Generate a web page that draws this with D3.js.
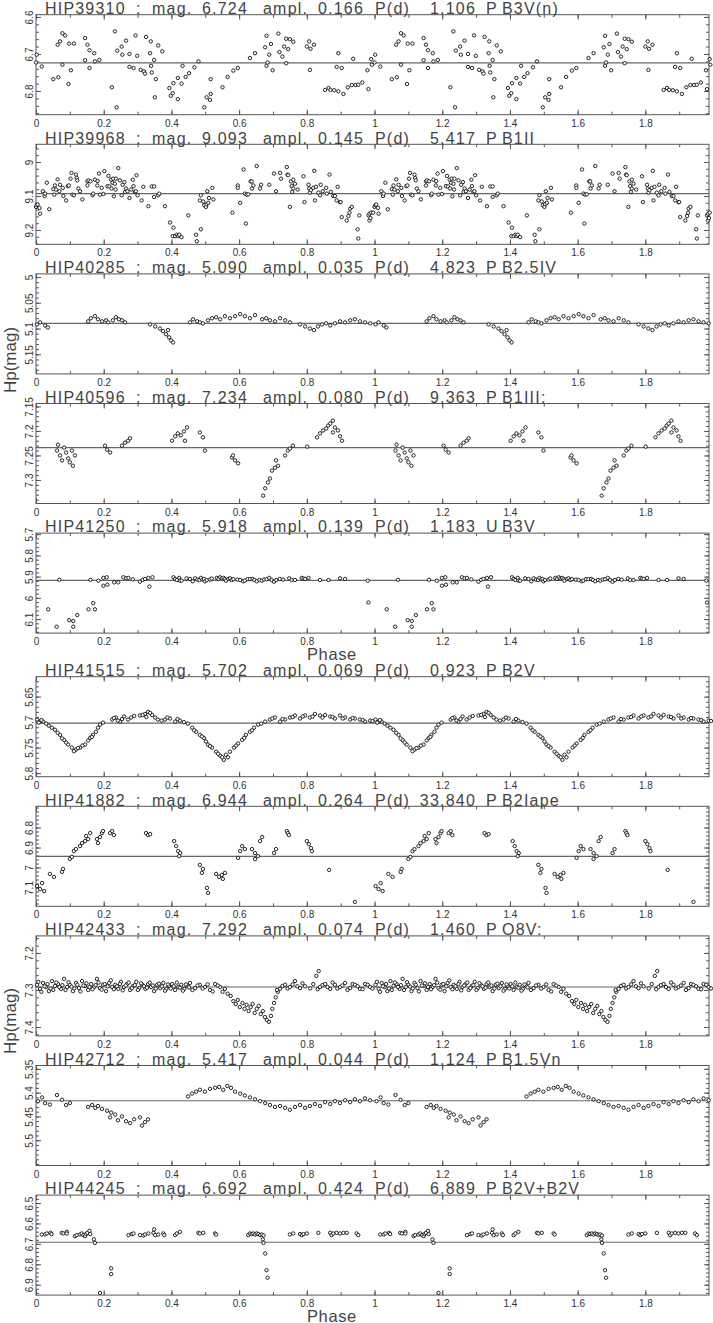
<!DOCTYPE html>
<html><head><meta charset="utf-8">
<script src="https://cdn.jsdelivr.net/npm/d3@7"></script>
<style>body{margin:0;background:#fff}svg{display:block}</style>
</head><body>
<svg id="c" width="713" height="1323"></svg>
<script>
// ---------------- data ----------------
const starNames = ["HIP39310","HIP39968","HIP40285","HIP40596","HIP41250","HIP41515","HIP41882","HIP42433","HIP42712","HIP44245"];
const meanMags = [6.724, 9.093, 5.090, 7.234, 5.918, 5.702, 6.944, 7.292, 5.417, 6.692];
const amplitudes = [0.166, 0.145, 0.035, 0.080, 0.139, 0.069, 0.264, 0.074, 0.044, 0.424];
const periods = [1.106, 5.417, 4.823, 9.363, 1.183, 0.923, 33.840, 1.460, 1.124, 6.889];
const periodFlags = ["P","P","P","P","U","P","P","P","P","P"];
const spectralTypes = ["B3V(n)","B1II","B2.5IV","B1III:","B3V","B2V","B2Iape","O8V:","B1.5Vn","B2V+B2V"];
const yDomains = [[6.594,6.864],[8.948,9.242],[4.994,5.188],[7.144,7.348],[5.695,6.166],[5.611,5.807],[6.694,7.194],[7.154,7.424],[5.343,5.553],[6.461,6.951]];
const yMajorTicks = [[6.6,6.7,6.8],[9,9.1,9.2],[5,5.05,5.1,5.15],[7.15,7.2,7.25,7.3],[5.7,5.8,5.9,6,6.1],[5.65,5.7,5.75,5.8],[6.8,6.9,7,7.1],[7.2,7.3,7.4],[5.35,5.4,5.45,5.5],[6.5,6.6,6.7,6.8,6.9]];
const yMinorSteps = [0.02,0.02,0.01,0.01,0.02,0.01,0.02,0.02,0.01,0.02];
const xTickLabels = [0,0.2,0.4,0.6,0.8,1,1.2,1.4,1.6,1.8];
const phaseDomain = [0,1.988];

// [phase, Hp mag] for phase 0..1 (plotted again at phase+1)
const hip39310 = [[0.002,6.702],[0.000,6.723],[0.017,6.734],[0.051,6.768],[0.066,6.763],[0.064,6.675],[0.071,6.666],[0.078,6.644],[0.078,6.729],[0.086,6.650],[0.096,6.781],[0.098,6.672],[0.103,6.744],[0.112,6.672],[0.145,6.657],[0.145,6.717],[0.152,6.675],[0.158,6.690],[0.158,6.738],[0.172,6.698],[0.174,6.720],[0.187,6.716],[0.224,6.790],[0.233,6.639],[0.238,6.844],[0.240,6.691],[0.253,6.680],[0.255,6.702],[0.266,6.664],[0.276,6.700],[0.276,6.735],[0.288,6.738],[0.294,6.650],[0.299,6.705],[0.309,6.743],[0.319,6.747],[0.322,6.753],[0.325,6.654],[0.337,6.698],[0.339,6.666],[0.340,6.732],[0.342,6.750],[0.349,6.716],[0.354,6.768],[0.351,6.817],[0.361,6.677],[0.373,6.693],[0.394,6.792],[0.398,6.813],[0.404,6.806],[0.406,6.779],[0.419,6.822],[0.419,6.765],[0.430,6.780],[0.433,6.732],[0.442,6.762],[0.452,6.752],[0.468,6.736],[0.480,6.720],[0.497,6.844],[0.504,6.817],[0.514,6.824],[0.516,6.808],[0.516,6.768],[0.551,6.790],[0.566,6.762],[0.583,6.745],[0.596,6.738],[0.632,6.711],[0.647,6.698],[0.677,6.682],[0.681,6.651],[0.681,6.732],[0.684,6.723],[0.689,6.702],[0.694,6.673],[0.699,6.744],[0.716,6.645],[0.719,6.695],[0.728,6.707],[0.733,6.680],[0.739,6.725],[0.739,6.659],[0.745,6.687],[0.750,6.660],[0.760,6.667],[0.800,6.680],[0.807,6.666],[0.811,6.686],[0.821,6.675],[0.809,6.743],[0.854,6.797],[0.864,6.792],[0.870,6.797],[0.881,6.798],[0.893,6.801],[0.908,6.808],[0.921,6.790],[0.933,6.784],[0.944,6.784],[0.893,6.698],[0.888,6.735],[0.903,6.738],[0.937,6.713],[0.952,6.783],[0.982,6.795],[0.979,6.744],[0.992,6.729],[0.990,6.714],[0.964,6.777]];

const hip39968 = [[0.000,9.132],[0.002,9.127],[0.005,9.125],[0.010,9.135],[0.012,9.152],[0.020,9.086],[0.025,9.100],[0.027,9.093],[0.032,9.061],[0.039,9.139],[0.051,9.080],[0.054,9.096],[0.056,9.069],[0.059,9.081],[0.064,9.051],[0.069,9.086],[0.071,9.067],[0.079,9.076],[0.081,9.100],[0.089,9.113],[0.094,9.071],[0.097,9.069],[0.102,9.049],[0.105,9.032],[0.108,9.096],[0.112,9.098],[0.118,9.037],[0.120,9.047],[0.122,9.054],[0.125,9.078],[0.130,9.086],[0.137,9.110],[0.152,9.057],[0.152,9.069],[0.155,9.054],[0.161,9.057],[0.167,9.098],[0.169,9.093],[0.174,9.052],[0.181,9.069],[0.182,9.056],[0.186,9.034],[0.189,9.096],[0.194,9.076],[0.199,9.094],[0.202,9.027],[0.211,9.071],[0.214,9.041],[0.217,9.072],[0.222,9.052],[0.223,9.078],[0.226,9.061],[0.228,9.049],[0.230,9.101],[0.233,9.064],[0.235,9.081],[0.236,9.049],[0.243,9.018],[0.248,9.054],[0.253,9.098],[0.256,9.067],[0.261,9.059],[0.263,9.088],[0.266,9.078],[0.270,9.086],[0.276,9.106],[0.281,9.081],[0.286,9.052],[0.288,9.071],[0.292,9.088],[0.295,9.086],[0.297,9.039],[0.300,9.098],[0.312,9.113],[0.317,9.073],[0.332,9.130],[0.342,9.072],[0.349,9.072],[0.349,9.103],[0.361,9.098],[0.364,9.093],[0.381,9.130],[0.396,9.178],[0.406,9.193],[0.404,9.218],[0.411,9.218],[0.416,9.214],[0.420,9.218],[0.423,9.214],[0.430,9.221],[0.450,9.157],[0.473,9.214],[0.475,9.233],[0.487,9.198],[0.484,9.113],[0.487,9.098],[0.494,9.116],[0.497,9.127],[0.502,9.132],[0.504,9.124],[0.506,9.086],[0.509,9.120],[0.511,9.106],[0.521,9.076],[0.524,9.110],[0.580,9.149],[0.596,9.069],[0.596,9.076],[0.603,9.120],[0.613,9.022],[0.620,9.181],[0.617,9.093],[0.622,9.096],[0.627,9.095],[0.634,9.057],[0.637,9.057],[0.638,9.078],[0.642,9.069],[0.652,9.012],[0.662,9.078],[0.665,9.067],[0.689,9.067],[0.703,9.034],[0.709,9.086],[0.721,9.032],[0.724,9.049],[0.741,9.015],[0.743,9.037],[0.745,9.039],[0.750,9.132],[0.753,9.057],[0.755,9.071],[0.757,9.088],[0.760,9.078],[0.760,9.052],[0.765,9.064],[0.773,9.081],[0.790,9.042],[0.793,9.118],[0.805,9.067],[0.807,9.078],[0.809,9.090],[0.812,9.083],[0.819,9.076],[0.822,9.026],[0.824,9.113],[0.827,9.073],[0.834,9.090],[0.839,9.098],[0.841,9.067],[0.847,9.086],[0.857,9.076],[0.859,9.093],[0.867,9.037],[0.871,9.088],[0.878,9.100],[0.883,9.100],[0.891,9.073],[0.888,9.113],[0.898,9.118],[0.900,9.118],[0.903,9.162],[0.918,9.172],[0.923,9.159],[0.926,9.149],[0.928,9.137],[0.933,9.132],[0.950,9.198],[0.952,9.225],[0.955,9.157],[0.982,9.157],[0.985,9.152],[0.990,9.149],[0.996,9.149],[0.985,9.172],[0.988,9.165]];

const hip40285 = [[0.003,5.092],[0.012,5.088],[0.027,5.094],[0.035,5.098],[0.154,5.086],[0.162,5.080],[0.174,5.076],[0.183,5.082],[0.195,5.086],[0.207,5.084],[0.213,5.088],[0.227,5.084],[0.236,5.078],[0.245,5.082],[0.254,5.084],[0.263,5.088],[0.337,5.092],[0.352,5.096],[0.366,5.100],[0.375,5.105],[0.384,5.111],[0.393,5.117],[0.399,5.123],[0.405,5.127],[0.390,5.103],[0.455,5.088],[0.464,5.082],[0.476,5.086],[0.484,5.088],[0.493,5.090],[0.508,5.084],[0.520,5.080],[0.532,5.078],[0.544,5.082],[0.558,5.076],[0.573,5.080],[0.588,5.076],[0.603,5.072],[0.617,5.076],[0.632,5.080],[0.647,5.074],[0.668,5.082],[0.680,5.080],[0.691,5.084],[0.706,5.086],[0.721,5.080],[0.736,5.084],[0.750,5.088],[0.780,5.092],[0.795,5.096],[0.809,5.100],[0.821,5.103],[0.833,5.096],[0.845,5.092],[0.857,5.090],[0.869,5.094],[0.883,5.090],[0.898,5.086],[0.913,5.088],[0.928,5.084],[0.942,5.082],[0.957,5.086],[0.972,5.088],[0.987,5.090]];

const hip40596 = [[0.062,7.240],[0.071,7.250],[0.077,7.260],[0.083,7.234],[0.089,7.244],[0.095,7.256],[0.100,7.264],[0.106,7.240],[0.115,7.250],[0.109,7.271],[0.065,7.228],[0.204,7.230],[0.210,7.238],[0.219,7.244],[0.254,7.230],[0.263,7.224],[0.272,7.220],[0.278,7.215],[0.402,7.220],[0.411,7.211],[0.419,7.205],[0.428,7.209],[0.437,7.201],[0.446,7.193],[0.440,7.220],[0.484,7.203],[0.493,7.213],[0.499,7.240],[0.579,7.254],[0.588,7.260],[0.597,7.266],[0.582,7.250],[0.671,7.332],[0.677,7.317],[0.685,7.305],[0.691,7.297],[0.697,7.281],[0.706,7.275],[0.715,7.271],[0.709,7.260],[0.736,7.250],[0.744,7.240],[0.750,7.236],[0.759,7.230],[0.801,7.232],[0.830,7.213],[0.839,7.205],[0.848,7.199],[0.857,7.195],[0.863,7.189],[0.869,7.185],[0.877,7.179],[0.883,7.193],[0.892,7.199],[0.898,7.211],[0.904,7.220],[0.877,7.203]];

const hip41250 = [[0.036,6.054],[0.061,6.136],[0.069,5.915],[0.098,6.105],[0.110,6.109],[0.110,6.136],[0.122,6.081],[0.155,6.054],[0.161,5.915],[0.169,6.025],[0.174,6.054],[0.184,5.919],[0.199,5.906],[0.199,5.943],[0.209,5.903],[0.211,5.938],[0.231,5.927],[0.243,5.927],[0.258,5.903],[0.266,5.908],[0.273,5.906],[0.286,5.913],[0.307,5.924],[0.315,5.915],[0.322,5.911],[0.332,5.906],[0.335,5.947],[0.344,5.903],[0.406,5.903],[0.411,5.911],[0.416,5.916],[0.423,5.906],[0.425,5.919],[0.430,5.919],[0.445,5.908],[0.455,5.911],[0.463,5.922],[0.470,5.908],[0.477,5.914],[0.483,5.916],[0.487,5.906],[0.492,5.914],[0.496,5.911],[0.499,5.922],[0.504,5.916],[0.514,5.914],[0.519,5.909],[0.534,5.906],[0.539,5.911],[0.544,5.903],[0.549,5.908],[0.554,5.906],[0.558,5.912],[0.561,5.919],[0.568,5.911],[0.573,5.908],[0.578,5.916],[0.583,5.912],[0.595,5.914],[0.603,5.916],[0.612,5.922],[0.617,5.919],[0.625,5.912],[0.632,5.912],[0.640,5.911],[0.645,5.916],[0.652,5.922],[0.660,5.916],[0.667,5.919],[0.674,5.914],[0.681,5.912],[0.689,5.906],[0.696,5.916],[0.703,5.924],[0.710,5.916],[0.720,5.911],[0.730,5.914],[0.748,5.908],[0.755,5.916],[0.765,5.916],[0.785,5.906],[0.790,5.909],[0.795,5.911],[0.805,5.906],[0.839,5.916],[0.864,5.916],[0.898,5.908],[0.913,5.911],[0.980,5.919],[0.982,6.022]];

const hip41515 = [[0.003,5.695],[0.012,5.699],[0.021,5.699],[0.030,5.703],[0.038,5.707],[0.056,5.715],[0.071,5.725],[0.083,5.735],[0.095,5.744],[0.106,5.750],[0.118,5.754],[0.130,5.750],[0.145,5.744],[0.154,5.736],[0.160,5.731],[0.168,5.725],[0.177,5.719],[0.183,5.711],[0.189,5.705],[0.225,5.695],[0.236,5.691],[0.248,5.699],[0.260,5.689],[0.272,5.695],[0.281,5.691],[0.307,5.687],[0.322,5.684],[0.331,5.680],[0.343,5.686],[0.352,5.691],[0.360,5.695],[0.381,5.695],[0.396,5.693],[0.411,5.699],[0.425,5.697],[0.449,5.703],[0.461,5.711],[0.473,5.719],[0.484,5.725],[0.496,5.731],[0.502,5.738],[0.508,5.744],[0.520,5.750],[0.532,5.758],[0.544,5.766],[0.555,5.774],[0.561,5.764],[0.573,5.758],[0.585,5.750],[0.597,5.742],[0.609,5.735],[0.620,5.725],[0.632,5.719],[0.644,5.711],[0.656,5.705],[0.677,5.699],[0.691,5.695],[0.706,5.691],[0.721,5.699],[0.736,5.695],[0.750,5.691],[0.765,5.687],[0.780,5.693],[0.795,5.687],[0.809,5.691],[0.824,5.684],[0.839,5.687],[0.854,5.686],[0.869,5.689],[0.883,5.693],[0.898,5.687],[0.913,5.691],[0.928,5.695],[0.942,5.693],[0.957,5.695],[0.972,5.699],[0.987,5.697],
[0.008,5.701],[0.016,5.696],[0.047,5.711],[0.064,5.721],[0.077,5.732],[0.089,5.740],[0.112,5.757],[0.124,5.751],[0.137,5.746],[0.165,5.729],[0.198,5.701],[0.230,5.692],[0.242,5.697],[0.254,5.694],[0.290,5.688],[0.315,5.686],[0.326,5.690],[0.337,5.682],[0.371,5.697],[0.388,5.691],[0.418,5.694],[0.437,5.700],[0.467,5.716],[0.490,5.728],[0.514,5.747],[0.538,5.762],[0.550,5.769],[0.567,5.769],[0.591,5.746],[0.615,5.731],[0.638,5.716],[0.665,5.703],[0.698,5.693],[0.728,5.694],[0.758,5.690],[0.788,5.689],[0.817,5.689],[0.846,5.691],[0.876,5.690],[0.906,5.693],[0.935,5.692],[0.965,5.696],[0.994,5.698]];

const hip41882 = [[0.003,7.093],[0.012,7.108],[0.018,7.078],[0.024,7.118],[0.041,7.032],[0.053,7.047],[0.077,7.022],[0.080,7.007],[0.100,6.957],[0.106,6.947],[0.112,6.918],[0.118,6.908],[0.130,6.893],[0.136,6.878],[0.145,6.868],[0.154,6.858],[0.148,6.843],[0.160,6.828],[0.180,6.858],[0.189,6.848],[0.195,6.828],[0.198,6.818],[0.183,6.878],[0.219,6.828],[0.225,6.818],[0.230,6.838],[0.325,6.828],[0.331,6.838],[0.337,6.833],[0.408,6.868],[0.414,6.893],[0.420,6.918],[0.426,6.928],[0.423,6.943],[0.484,6.987],[0.493,7.007],[0.490,7.027],[0.505,7.102],[0.508,7.127],[0.532,7.032],[0.541,7.047],[0.549,7.037],[0.558,7.027],[0.552,7.057],[0.597,6.952],[0.603,6.918],[0.609,6.893],[0.617,6.908],[0.638,6.908],[0.647,6.928],[0.656,6.943],[0.647,6.958],[0.662,6.868],[0.668,6.848],[0.703,6.928],[0.709,6.908],[0.741,6.818],[0.744,6.828],[0.747,6.838],[0.800,6.868],[0.806,6.883],[0.812,6.903],[0.815,6.918],[0.866,7.012],[0.942,7.172]];

const hip42433 = [[0.003,7.286],[0.012,7.297],[0.021,7.281],[0.030,7.292],[0.038,7.303],[0.047,7.276],[0.056,7.289],[0.065,7.284],[0.074,7.297],[0.083,7.270],[0.092,7.292],[0.100,7.286],[0.109,7.303],[0.118,7.281],[0.127,7.295],[0.136,7.276],[0.145,7.289],[0.154,7.300],[0.163,7.284],[0.172,7.292],[0.180,7.270],[0.189,7.295],[0.198,7.286],[0.207,7.303],[0.216,7.281],[0.225,7.292],[0.234,7.286],[0.243,7.297],[0.251,7.278],[0.260,7.292],[0.269,7.284],[0.278,7.300],[0.287,7.289],[0.296,7.278],[0.305,7.295],[0.314,7.286],[0.323,7.297],[0.331,7.284],[0.340,7.292],[0.349,7.303],[0.358,7.286],[0.367,7.295],[0.376,7.281],[0.385,7.297],[0.393,7.289],[0.402,7.284],[0.411,7.300],[0.420,7.292],[0.429,7.286],[0.438,7.297],[0.447,7.289],[0.455,7.281],[0.470,7.295],[0.484,7.286],[0.499,7.292],[0.514,7.300],[0.529,7.284],[0.544,7.292],[0.558,7.297],
[0.007,7.278],[0.016,7.305],[0.025,7.290],[0.034,7.284],[0.043,7.296],[0.051,7.300],[0.060,7.280],[0.069,7.292],[0.078,7.287],[0.087,7.300],[0.096,7.279],[0.105,7.291],[0.113,7.296],[0.122,7.286],[0.131,7.304],[0.140,7.288],[0.149,7.282],[0.158,7.292],[0.167,7.298],[0.176,7.287],[0.185,7.280],[0.194,7.299],[0.203,7.284],[0.212,7.290],[0.221,7.274],[0.230,7.298],[0.239,7.290],[0.248,7.284],[0.256,7.301],[0.265,7.288],[0.274,7.280],[0.283,7.295],[0.292,7.287],[0.301,7.300],[0.310,7.282],[0.319,7.290],[0.328,7.294],[0.336,7.280],[0.345,7.288],[0.354,7.296],[0.363,7.283],[0.372,7.290],[0.381,7.302],[0.390,7.285],[0.398,7.296],[0.407,7.290],[0.416,7.280],[0.425,7.294],[0.434,7.302],[0.443,7.285],[0.452,7.293],[0.462,7.300],[0.477,7.288],[0.492,7.296],[0.507,7.285],[0.522,7.304],[0.537,7.288],[0.551,7.305],[0.566,7.310],
[0.575,7.316],[0.583,7.330],[0.590,7.338],[0.596,7.327],[0.602,7.346],[0.610,7.335],[0.616,7.351],[0.622,7.340],[0.628,7.357],[0.634,7.346],[0.640,7.338],[0.646,7.362],[0.652,7.351],[0.658,7.343],[0.664,7.365],[0.670,7.357],[0.676,7.373],[0.682,7.381],[0.688,7.386],[0.694,7.370],[0.698,7.351],[0.703,7.335],[0.708,7.320],[0.714,7.305],
[0.712,7.300],[0.721,7.297],[0.728,7.289],[0.736,7.286],[0.743,7.296],[0.750,7.292],[0.758,7.285],[0.765,7.276],[0.772,7.290],[0.780,7.295],[0.787,7.282],[0.795,7.290],[0.810,7.296],[0.819,7.284],[0.828,7.262],[0.835,7.249],[0.832,7.298],[0.839,7.292],[0.846,7.287],[0.854,7.284],[0.861,7.292],[0.869,7.297],[0.876,7.280],[0.883,7.286],[0.890,7.296],[0.898,7.292],[0.905,7.288],[0.913,7.281],[0.920,7.300],[0.928,7.295],[0.935,7.284],[0.942,7.286],[0.950,7.290],[0.957,7.297],[0.965,7.298],[0.972,7.284],[0.980,7.286],[0.987,7.292],[0.994,7.296]];

const hip42712 = [[0.006,5.418],[0.018,5.410],[0.027,5.422],[0.041,5.425],[0.062,5.405],[0.077,5.415],[0.089,5.426],[0.100,5.422],[0.154,5.430],[0.166,5.426],[0.175,5.432],[0.183,5.428],[0.195,5.434],[0.210,5.438],[0.222,5.442],[0.234,5.446],[0.219,5.452],[0.242,5.458],[0.254,5.450],[0.266,5.460],[0.278,5.464],[0.290,5.456],[0.307,5.452],[0.313,5.469],[0.322,5.462],[0.331,5.456],[0.449,5.408],[0.461,5.402],[0.473,5.398],[0.484,5.394],[0.499,5.398],[0.514,5.392],[0.529,5.390],[0.541,5.388],[0.553,5.394],[0.565,5.386],[0.576,5.390],[0.588,5.398],[0.603,5.402],[0.617,5.406],[0.632,5.410],[0.647,5.414],[0.662,5.418],[0.677,5.422],[0.691,5.426],[0.706,5.430],[0.721,5.428],[0.736,5.432],[0.750,5.436],[0.765,5.430],[0.780,5.426],[0.795,5.432],[0.809,5.428],[0.824,5.424],[0.839,5.428],[0.854,5.420],[0.869,5.424],[0.883,5.418],[0.898,5.422],[0.913,5.416],[0.928,5.420],[0.942,5.414],[0.957,5.418],[0.972,5.412],[0.987,5.416]];

const hip44245 = [[0.017,6.654],[0.027,6.654],[0.032,6.649],[0.043,6.646],[0.046,6.652],[0.076,6.646],[0.081,6.649],[0.091,6.641],[0.091,6.649],[0.115,6.662],[0.120,6.657],[0.130,6.654],[0.135,6.649],[0.140,6.657],[0.145,6.662],[0.148,6.652],[0.152,6.646],[0.158,6.636],[0.160,6.652],[0.171,6.678],[0.174,6.695],[0.189,6.940],[0.222,6.820],[0.222,6.848],[0.273,6.657],[0.283,6.652],[0.288,6.649],[0.307,6.657],[0.317,6.659],[0.322,6.654],[0.332,6.649],[0.347,6.646],[0.349,6.629],[0.352,6.657],[0.361,6.654],[0.376,6.649],[0.379,6.657],[0.411,6.657],[0.416,6.649],[0.425,6.641],[0.480,6.646],[0.484,6.649],[0.494,6.646],[0.529,6.649],[0.532,6.654],[0.627,6.657],[0.632,6.649],[0.637,6.652],[0.642,6.649],[0.647,6.654],[0.652,6.649],[0.657,6.652],[0.662,6.657],[0.667,6.654],[0.672,6.659],[0.670,6.678],[0.672,6.695],[0.677,6.747],[0.681,6.829],[0.684,6.866],[0.750,6.654],[0.760,6.649],[0.780,6.652],[0.785,6.657],[0.790,6.652],[0.800,6.649],[0.834,6.646],[0.869,6.646],[0.873,6.657],[0.878,6.649],[0.888,6.646],[0.898,6.649],[0.908,6.646],[0.918,6.646],[0.947,6.649],[0.952,6.657]];

const seriesList = [hip39310, hip39968, hip40285, hip40596, hip41250, hip41515, hip41882, hip42433, hip42712, hip44245];

// ---------------- drawing ----------------
const svg = d3.select("#c");
const FONT = "'Liberation Sans', Arial, sans-serif";
const ink = "#555";
const x = d3.scaleLinear().domain(phaseDomain).range([36, 709]);
const plotH = 100;
const fmt = d3.format("~g");
const xMinor = d3.range(0, 1.99, 0.1);

starNames.forEach((name, i) => {
  const top = 14.7 + (i % 5) * 129.6 + Math.floor(i / 5) * 662;
  const bottom = top + plotH;
  const y = d3.scaleLinear().domain(yDomains[i]).range([top, bottom]);
  const g = svg.append("g");
  const [lo, hi] = yDomains[i];
  const st = yMinorSteps[i];
  const yMinor = d3.range(Math.ceil(lo / st - 1e-6), Math.floor(hi / st + 1e-6) + 1).map(k => +(k * st).toFixed(4));

  g.append("rect").attr("x", 36).attr("y", top).attr("width", 673).attr("height", plotH)
    .attr("fill", "none").attr("stroke", ink).attr("stroke-width", 1);

  const styleAxis = sel => { sel.select(".domain").remove(); sel.selectAll("line").attr("stroke", ink); };

  g.append("g").attr("transform", "translate(36,0)")
    .call(d3.axisLeft(y).tickValues(yMinor).tickSize(-3).tickSizeOuter(0).tickFormat(""))
    .call(styleAxis);
  const la = g.append("g").attr("transform", "translate(36,0)")
    .call(d3.axisLeft(y).tickValues(yMajorTicks[i]).tickSize(-5).tickSizeOuter(0).tickFormat(fmt))
    .call(styleAxis);
  la.selectAll("text").attr("x", null).attr("dy", null).attr("text-anchor", "middle")
    .attr("transform", "translate(-3,0) rotate(-90)")
    .attr("font-family", FONT).attr("font-size", 10).attr("fill", "#333");

  g.append("g").attr("transform", "translate(709,0)")
    .call(d3.axisRight(y).tickValues(yMinor).tickSize(-3).tickSizeOuter(0).tickFormat(""))
    .call(styleAxis);
  g.append("g").attr("transform", "translate(709,0)")
    .call(d3.axisRight(y).tickValues(yMajorTicks[i]).tickSize(-5).tickSizeOuter(0).tickFormat(""))
    .call(styleAxis);

  g.append("g").attr("transform", `translate(0,${top})`)
    .call(d3.axisTop(x).tickValues(xMinor).tickSize(-3).tickSizeOuter(0).tickFormat(""))
    .call(styleAxis);
  g.append("g").attr("transform", `translate(0,${top})`)
    .call(d3.axisTop(x).tickValues(xTickLabels).tickSize(-5).tickSizeOuter(0).tickFormat(""))
    .call(styleAxis);

  g.append("g").attr("transform", `translate(0,${bottom})`)
    .call(d3.axisBottom(x).tickValues(xMinor).tickSize(-3).tickSizeOuter(0).tickFormat(""))
    .call(styleAxis);
  const ba = g.append("g").attr("transform", `translate(0,${bottom})`)
    .call(d3.axisBottom(x).tickValues(xTickLabels).tickSize(-5).tickSizeOuter(0).tickFormat(fmt))
    .call(styleAxis);
  ba.selectAll("text").attr("y", 12).attr("dy", null)
    .attr("font-family", FONT).attr("font-size", 10).attr("fill", "#333");

  g.append("line").attr("x1", x(phaseDomain[0])).attr("x2", x(phaseDomain[1]))
    .attr("y1", y(meanMags[i])).attr("y2", y(meanMags[i]))
    .attr("stroke", "#666").attr("stroke-width", 1.2);

  const pts = seriesList[i].flatMap(d => [d, [d[0] + 1, d[1]]]).filter(d => d[0] <= 1.995);
  g.append("g").selectAll("circle").data(pts).join("circle")
    .attr("cx", d => x(d[0])).attr("cy", d => y(d[1])).attr("r", 1.7)
    .attr("fill", "#fff").attr("stroke", "#111").attr("stroke-width", 0.9);

  const t = g.append("g").attr("font-family", FONT).attr("font-size", 16)
    .attr("letter-spacing", 1.2).attr("fill", "#444");
  const by = top - 0.7;
  t.append("text").attr("x", 45).attr("y", by).text(name);
  t.append("text").attr("x", 136).attr("y", by).text(":");
  t.append("text").attr("x", 152).attr("y", by).text("mag.");
  t.append("text").attr("x", 202).attr("y", by).text(meanMags[i].toFixed(3));
  t.append("text").attr("x", 263).attr("y", by).text("ampl.");
  t.append("text").attr("x", 318).attr("y", by).text(amplitudes[i].toFixed(3));
  t.append("text").attr("x", 375).attr("y", by).text("P(d)");
  t.append("text").attr("x", 476).attr("y", by).attr("text-anchor", "end").text(periods[i].toFixed(3));
  t.append("text").attr("x", 486).attr("y", by).text(periodFlags[i]);
  t.append("text").attr("x", 502).attr("y", by).text(spectralTypes[i]);
});

[360, 1021].forEach(cy => {
  svg.append("text").attr("transform", `translate(16,${cy}) rotate(-90)`)
    .attr("text-anchor", "middle").attr("font-family", FONT).attr("font-size", 17).attr("fill", "#444")
    .text("Hp(mag)");
});
[660, 1321.5].forEach(by => {
  svg.append("text").attr("x", 307).attr("y", by)
    .attr("font-family", FONT).attr("font-size", 16.5).attr("letter-spacing", 0.6).attr("fill", "#444").text("Phase");
});
</script>
</body></html>
